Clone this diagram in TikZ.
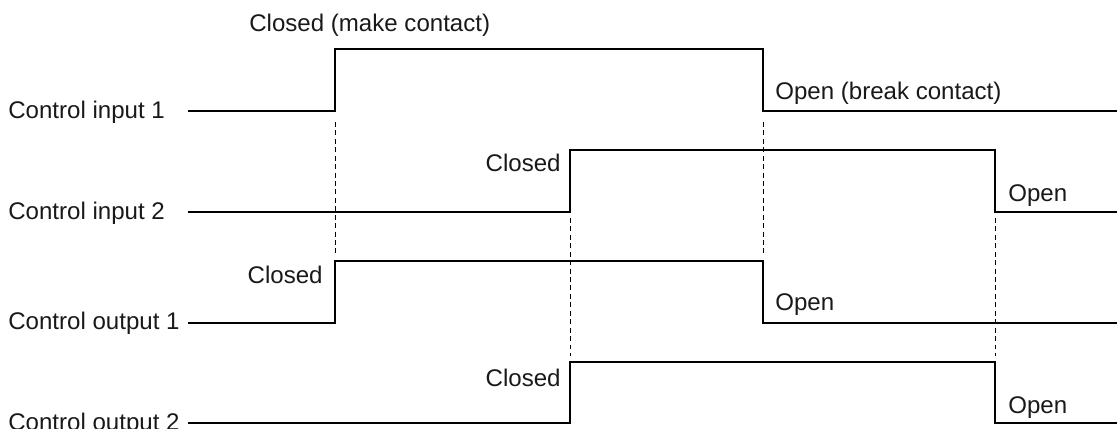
\documentclass[tikz,border=0pt]{standalone}
\usepackage{fontspec}
\setmainfont{Liberation Sans}
\begin{document}
\begin{tikzpicture}[x=0.02cm,y=-0.02cm,
  signal/.style={line width=1.7pt},
  guide/.style={line width=0.5pt,dash pattern=on 2.8pt off 2pt},
  lbl/.style={inner sep=0pt,text=black!90,font=\fontsize{13.7}{16}\selectfont}]
\useasboundingbox (0,0) rectangle (1117,429);
% row names
\node[lbl,anchor=base west] (in1) at (8,119) {Control input 1};
\node[lbl,anchor=base west] (in2) at (8,220) {Control input 2};
\node[lbl,anchor=base west] (out1) at (8,330) {Control output 1};
\node[lbl,anchor=base west] (out2) at (8,430) {Control output 2};
% guides
\draw[guide] (335,122) -- (335,255);
\draw[guide] (763,122) -- (763,255);
\draw[guide] (570,218) -- (570,356);
\draw[guide] (995,218) -- (995,356);
% signals
\draw[signal] (188,111) -- (335,111) -- (335,49) -- (763,49) -- (763,111) -- (1117,111);
\draw[signal] (188,212) -- (570,212) -- (570,150) -- (995,150) -- (995,212) -- (1117,212);
\draw[signal] (188,323) -- (335,323) -- (335,261) -- (763,261) -- (763,323) -- (1117,323);
\draw[signal] (188,423) -- (570,423) -- (570,362) -- (995,362) -- (995,423) -- (1117,423);
% states
\node[lbl,anchor=base west] (make) at (249,32) {Closed (make contact)};
\node[lbl,anchor=base west] (break) at (775,100) {Open (break contact)};
\node[lbl,anchor=base east] (c2) at (561,172) {Closed};
\node[lbl,anchor=base west] (o2) at (1008,202) {Open};
\node[lbl,anchor=base east] (c3) at (323,283) {Closed};
\node[lbl,anchor=base west] (o3) at (775,311) {Open};
\node[lbl,anchor=base east] (c4) at (561,386) {Closed};
\node[lbl,anchor=base west] (o4) at (1008,413) {Open};
\end{tikzpicture}
\end{document}
